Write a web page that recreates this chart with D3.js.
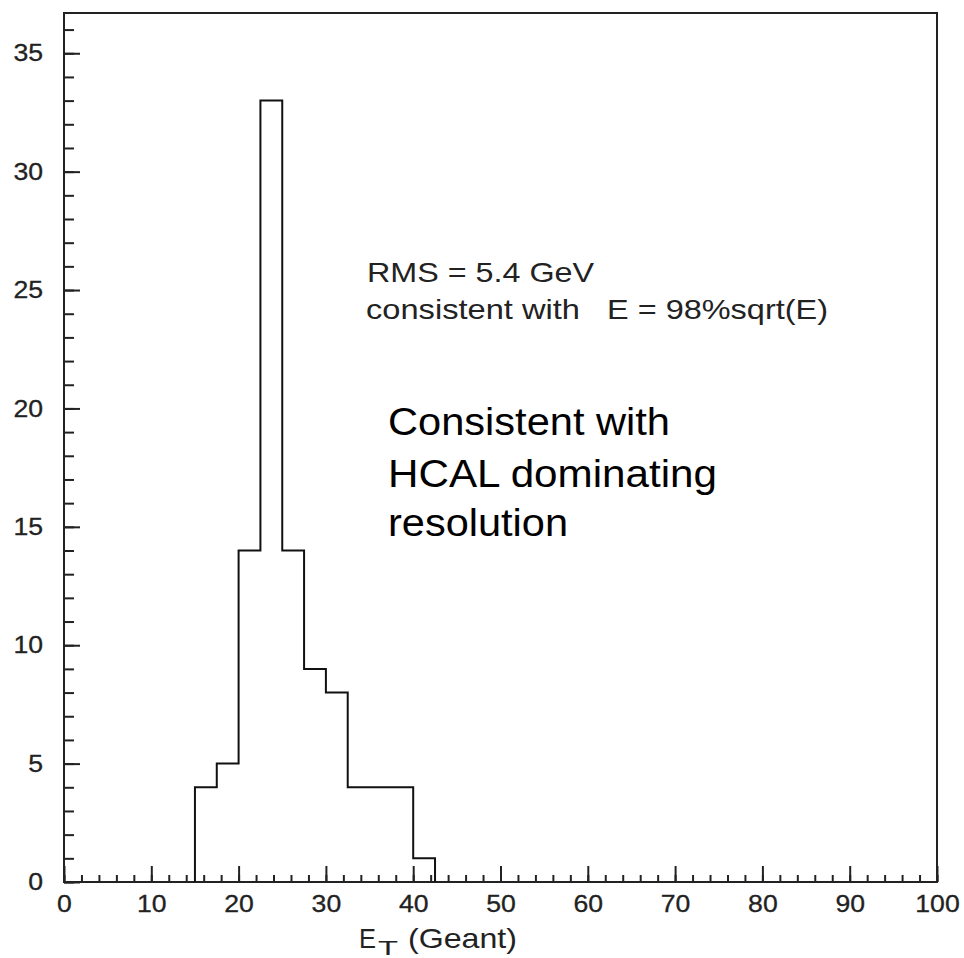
<!DOCTYPE html>
<html>
<head>
<meta charset="utf-8">
<script src="https://cdn.jsdelivr.net/npm/d3@7"></script>
<style>
  body { margin: 0; background: #fff; }
  text { font-family: "Liberation Sans", Arial, Helvetica, sans-serif; }
</style>
</head>
<body>
<div id="chart"></div>
<script>
// histogram bins (E_T in GeV) and counts
const binEdges = [15, 17.5, 20, 22.5, 25, 27.5, 30, 32.5, 35, 37.5, 40, 42.5];
const counts = [4, 5, 14, 33, 14, 9, 8, 4, 4, 4, 1];
const xTicks = [0, 10, 20, 30, 40, 50, 60, 70, 80, 90, 100];
const yTicks = [0, 5, 10, 15, 20, 25, 30, 35];

const width = 964;
const height = 958;
const margin = { top: 13, right: 27, bottom: 76, left: 64 };
const ink = "#222";

const svg = d3
  .select("#chart")
  .append("svg")
  .attr("width", width)
  .attr("height", height);

const x = d3.scaleLinear().domain([0, 100]).range([margin.left, width - margin.right]);
const y = d3.scaleLinear().domain([0, 36.7]).range([height - margin.bottom, margin.top]);

// minor ticks (inward)
svg
  .append("g")
  .attr("transform", `translate(0,${height - margin.bottom})`)
  .call(d3.axisBottom(x).tickValues(d3.range(0, 101, 2)).tickSize(-7).tickFormat(""))
  .call((g) => g.select(".domain").remove());
svg
  .append("g")
  .attr("transform", `translate(${margin.left},0)`)
  .call(d3.axisLeft(y).tickValues(d3.range(0, 37, 1)).tickSize(-10).tickFormat(""))
  .call((g) => g.select(".domain").remove());

// major ticks with labels
const xAxis = svg
  .append("g")
  .attr("transform", `translate(0,${height - margin.bottom})`)
  .call(d3.axisBottom(x).tickValues(xTicks).tickSize(-16).tickPadding(13));
const yAxis = svg
  .append("g")
  .attr("transform", `translate(${margin.left},0)`)
  .call(d3.axisLeft(y).tickValues(yTicks).tickSize(-16).tickPadding(21));

[xAxis, yAxis].forEach((g) => {
  g.select(".domain").remove();
  g.selectAll("text")
    .attr("font-size", 24)
    .attr("fill", ink)
    .attr("stroke", ink)
    .attr("stroke-width", 0.3)
    .attr("textLength", function () { return this.textContent.length * 14.8; })
    .attr("lengthAdjust", "spacingAndGlyphs")
    .style("font-family", '"Liberation Sans", Arial, sans-serif');
});
svg.selectAll(".tick line").attr("stroke", ink).attr("stroke-width", 2);

// frame
svg
  .append("rect")
  .attr("x", margin.left)
  .attr("y", margin.top)
  .attr("width", width - margin.left - margin.right)
  .attr("height", height - margin.top - margin.bottom)
  .attr("fill", "none")
  .attr("stroke", ink)
  .attr("stroke-width", 2);

// step outline of the histogram
const pts = [[binEdges[0], 0]];
counts.forEach((c, i) => {
  pts.push([binEdges[i], c]);
  pts.push([binEdges[i + 1], c]);
});
pts.push([binEdges[binEdges.length - 1], 0]);

svg
  .append("path")
  .datum(pts)
  .attr("fill", "none")
  .attr("stroke", "#111")
  .attr("stroke-width", 2)
  .attr("d", d3.line().x((d) => x(d[0])).y((d) => y(d[1])));

// axis title E_T (Geant)
const xt = svg.append("g").attr("fill", ink);
xt.append("text").attr("x", 359).attr("y", 948).attr("font-size", 28)
  .attr("textLength", 17).attr("lengthAdjust", "spacingAndGlyphs").text("E");
xt.append("text").attr("x", 378).attr("y", 955).attr("font-size", 21)
  .attr("textLength", 20).attr("lengthAdjust", "spacingAndGlyphs").text("T");
xt.append("text").attr("x", 408).attr("y", 948).attr("font-size", 28)
  .attr("textLength", 109).attr("lengthAdjust", "spacingAndGlyphs").text("(Geant)");

// annotations
const notes = [
  { t: "RMS = 5.4 GeV", x: 367, y: 282, w: 227, fs: 28, c: ink },
  { t: "consistent with", x: 366, y: 319, w: 214, fs: 28, c: ink },
  { t: "E = 98%sqrt(E)", x: 607, y: 319, w: 221, fs: 28, c: ink },
  { t: "Consistent with", x: 388, y: 435, w: 282, fs: 38, c: "#000" },
  { t: "HCAL dominating", x: 388, y: 487, w: 329, fs: 38, c: "#000" },
  { t: "resolution", x: 388, y: 536, w: 180, fs: 38, c: "#000" },
];
svg
  .selectAll(".note")
  .data(notes)
  .enter()
  .append("text")
  .attr("class", "note")
  .attr("x", (d) => d.x)
  .attr("y", (d) => d.y)
  .attr("font-size", (d) => d.fs)
  .attr("fill", (d) => d.c)
  .attr("textLength", (d) => d.w)
  .attr("lengthAdjust", "spacingAndGlyphs")
  .text((d) => d.t);
</script>
</body>
</html>
